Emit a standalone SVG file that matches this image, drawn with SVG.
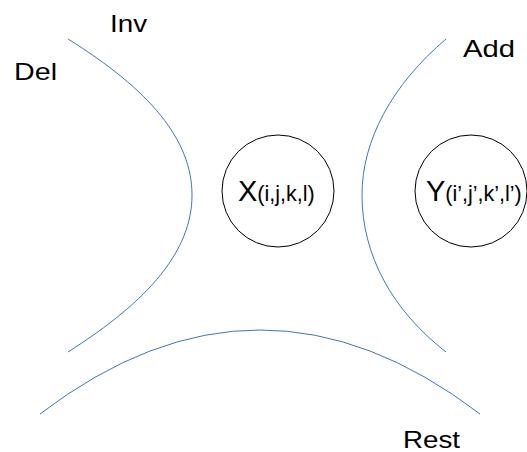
<svg xmlns="http://www.w3.org/2000/svg" width="527" height="452" viewBox="0 0 527 452">
<style>
.curve{fill:none;stroke:#4472C4;stroke-width:1}
.node{fill:#fff;stroke:#000;stroke-width:1}
.lbl{font-family:"Liberation Sans",Arial,sans-serif;fill:#000;font-size:24px}
.big{font-family:"Liberation Sans",Arial,sans-serif;fill:#000;font-size:29px}
.sub{font-size:21.5px}
</style>
<rect width="527" height="452" fill="#fff"/>
<g id="connectors">
<path class="curve" d="M68,39 C150,90 192,140 192,195 C192,250 150,300 68,352"/>
<path class="curve" d="M446,39 C392,85 362,140 362,195 C362,255 392,310 446,352"/>
<path class="curve" d="M40,414 Q260,246 480,414"/>
</g>
<g id="labels">
<text class="lbl" x="110" y="32" textLength="37" lengthAdjust="spacingAndGlyphs">Inv</text>
<text class="lbl" x="14" y="80" textLength="43" lengthAdjust="spacingAndGlyphs">Del</text>
<text class="lbl" x="463" y="57" textLength="52" lengthAdjust="spacingAndGlyphs">Add</text>
<text class="lbl" x="403" y="448" textLength="57" lengthAdjust="spacingAndGlyphs">Rest</text>
</g>
<g id="nodeX">
<circle class="node" cx="278" cy="191" r="56"/>
<text class="big" x="238" y="201">X<tspan class="sub">(i,j,k,l)</tspan></text>
</g>
<g id="nodeY">
<circle class="node" cx="471" cy="191" r="56"/>
<text class="big" x="426" y="201">Y<tspan class="sub">(i’,j’,k’,l’)</tspan></text>
</g>
</svg>
